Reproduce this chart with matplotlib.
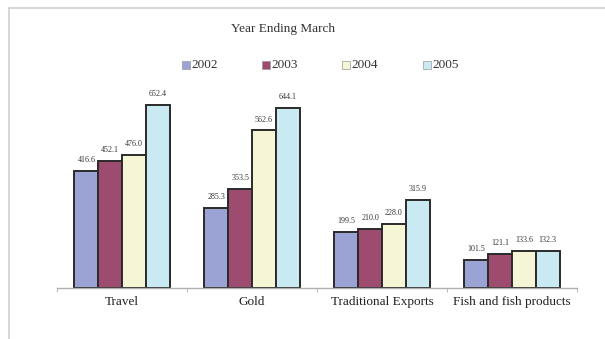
import matplotlib
matplotlib.use("Agg")
import matplotlib.pyplot as plt
from matplotlib.patches import Rectangle
import numpy as np

plt.rcParams['font.family'] = ['Liberation Serif', 'DejaVu Serif']

categories = ["Travel", "Gold", "Traditional Exports", "Fish and fish products"]
years = ["2002", "2003", "2004", "2005"]
values = {
    "2002": [416.6, 285.3, 199.5, 101.5],
    "2003": [452.1, 353.5, 210.0, 121.1],
    "2004": [476.0, 562.6, 228.0, 133.6],
    "2005": [652.4, 644.1, 315.9, 132.3],
}
colors = ["#9aa3d3", "#9e4b70", "#f6f5d6", "#c9e9f3"]

W, H = 605, 339
fig = plt.figure(figsize=(W / 100, H / 100), dpi=100)

# light frame around the chart area
fig.add_artist(plt.Line2D([8.5 / W, 8.5 / W], [0, 1 - 7.5 / H], color="#d0d0d0", lw=1.2))
fig.add_artist(plt.Line2D([8.5 / W, 1], [1 - 7.5 / H, 1 - 7.5 / H], color="#d0d0d0", lw=1.2))

ax = fig.add_axes([57 / W, 1 - 288 / H, (577 - 57) / W, (288 - 92) / H])
x = np.arange(len(categories))
bw = 0.183
for i, (yr, c) in enumerate(zip(years, colors)):
    bars = ax.bar(x + (i - 1.5) * bw, values[yr], bw, color=c,
                  edgecolor="#2a2a2a", linewidth=1.4, label=yr)
    for b, v in zip(bars, values[yr]):
        ax.annotate(f"{v:.1f}", (b.get_x() + b.get_width() / 2, v),
                    xytext=(0, 5), textcoords="offset points",
                    ha="center", va="bottom", fontsize=5.8, color="#333333")

ax.set_xlim(-0.5, len(categories) - 0.5)
ax.set_ylim(0, 700)
for s in ["top", "right", "left"]:
    ax.spines[s].set_visible(False)
ax.spines["bottom"].set_color("#b0b0b0")
ax.spines["bottom"].set_linewidth(1.0)
ax.set_yticks([])
ax.set_xticks(x)
ax.set_xticklabels(categories, fontsize=9.5, color="#222222")
ax.tick_params(axis="x", which="major", length=0, pad=6)
ax.set_xticks(np.arange(-0.5, len(categories)), minor=True)
ax.tick_params(axis="x", which="minor", length=3, color="#b0b0b0", direction="out")

fig.text(283 / W, 1 - 29 / H, "Year Ending March", ha="center", va="center",
         fontsize=9.5, color="#333333")

# legend row
lx = [186, 266, 346, 427]
for xp, yr, c in zip(lx, years, colors):
    fig.add_artist(Rectangle(((xp - 4) / W, 1 - 69 / H), 8 / W, 8 / H,
                             facecolor=c, edgecolor="#999999", lw=0.5,
                             transform=fig.transFigure))
    fig.text((xp + 5) / W, 1 - 65 / H, yr, ha="left", va="center",
             fontsize=9.5, color="#333333")

fig.savefig("out.png", dpi=100)
